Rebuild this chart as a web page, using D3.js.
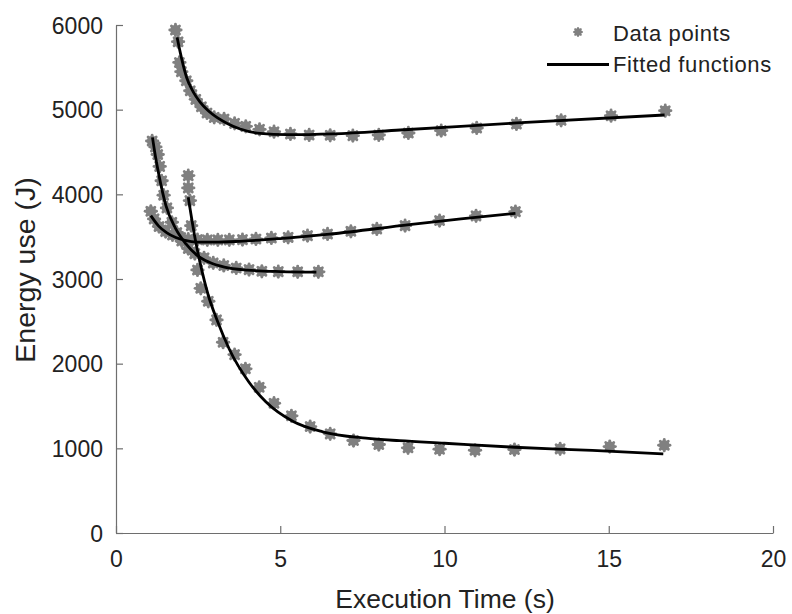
<!DOCTYPE html>
<html>
  <head>
    <meta charset="UTF-8" />
    <style>
      body { margin: 0; background: #fff; }
      svg { display: block; }
      text { font-family: "Liberation Sans", Arial, Helvetica, sans-serif; fill: #222; }
    </style>
  </head>
  <body>
    <svg></svg>
    <script src="https://d3js.org/d3.v7.min.js"></script>
    <script>
      // measured data points [execution time (s), energy (J)]
      const pointsA = [[1.81,5941],[1.89,5803],[1.93,5558],[1.99,5449],[2.14,5342],[2.26,5224],[2.43,5122],[2.6,5035],[2.77,4961],[2.99,4909],[3.29,4890],[3.61,4838],[3.95,4803],[4.37,4767],[4.81,4740],[5.31,4713],[5.88,4701],[6.52,4697],[7.21,4693],[8.0,4701],[8.9,4725],[9.9,4752],[10.98,4784],[12.19,4831],[13.55,4874],[15.07,4929],[16.72,4988]];
      const pointsB = [[1.1,4630],[1.2,4560],[1.27,4470],[1.33,4330],[1.39,4160],[1.45,3990],[1.55,3840],[1.7,3670],[1.85,3550],[2.0,3450],[2.2,3360],[2.4,3300],[2.68,3250],[2.96,3190],[3.28,3160],[3.66,3130],[4.05,3111],[4.44,3091],[4.94,3087],[5.53,3085],[6.16,3085]];
      const pointsC = [[1.06,3800],[1.16,3710],[1.31,3620],[1.51,3560],[1.72,3520],[1.97,3490],[2.2,3470],[2.48,3465],[2.78,3462],[3.1,3462],[3.45,3462],[3.85,3465],[4.26,3473],[4.73,3485],[5.24,3492],[5.83,3512],[6.44,3532],[7.15,3563],[7.94,3591],[8.8,3630],[9.85,3690],[10.96,3746],[12.16,3796]];
      const pointsD = [[2.2,4221],[2.2,4076],[2.25,3926],[2.29,3630],[2.48,3107],[2.58,2890],[2.81,2737],[3.06,2517],[3.26,2253],[3.61,2107],[3.94,1939],[4.36,1721],[4.81,1533],[5.34,1384],[5.91,1257],[6.52,1171],[7.23,1092],[8.0,1045],[8.89,1006],[9.85,990],[10.93,977],[12.13,986],[13.52,994],[15.03,1021],[16.69,1037]];

      // fitted curves
      const fitA = [[1.86,5854],[2.0,5600],[2.15,5380],[2.35,5210],[2.56,5090],[2.8,4990],[3.07,4909],[3.4,4835],[3.78,4772],[4.39,4720],[5.2,4705],[6.6,4715],[8.65,4760],[12.2,4843],[16.7,4937]];
      const fitB = [[1.11,4673],[1.2,4450],[1.31,4221],[1.52,3866],[1.82,3591],[2.13,3414],[2.48,3276],[2.84,3197],[3.3,3140],[4.0,3105],[5.0,3088],[6.1,3082]];
      const fitC = [[1.06,3749],[1.3,3625],[1.55,3545],[1.82,3490],[2.1,3455],[2.45,3435],[3.0,3435],[3.75,3445],[5.0,3478],[6.5,3530],[8.93,3642],[10.5,3710],[12.16,3776]];
      const fitD = [[2.2,3965],[2.43,3433],[2.58,3158],[2.8,2820],[3.09,2500],[3.45,2170],[4.05,1780],[4.56,1550],[5.38,1320],[6.29,1195],[7.61,1120],[8.63,1090],[10,1060],[12.13,1013],[14.5,975],[16.66,935]];

      const xTicks = [0, 5, 10, 15, 20];
      const yTicks = [0, 1000, 2000, 3000, 4000, 5000, 6000];
      const legendLabels = ["Data points", "Fitted functions"];

      let width = 792,
        height = 614;
      let svg = d3.select("svg").attr("width", width).attr("height", height);

      const x = d3.scaleLinear().domain([0, 20]).range([116, 773]);
      const y = d3.scaleLinear().domain([0, 6000]).range([533, 25]);

      const axisColor = "#6e6e6e";
      const markColor = "#808080";

      // x axis (ticks point inward)
      const gx = svg
        .append("g")
        .attr("transform", "translate(0," + y(0) + ")")
        .call(
          d3.axisBottom(x).tickValues(xTicks).tickFormat(d3.format("d"))
            .tickSizeInner(-7).tickSizeOuter(0).tickPadding(16)
        );
      // y axis
      const gy = svg
        .append("g")
        .attr("transform", "translate(" + x(0) + ",0)")
        .call(
          d3.axisLeft(y).tickValues(yTicks).tickFormat(d3.format("d"))
            .tickSizeInner(-7).tickSizeOuter(0).tickPadding(13)
        );

      [gx, gy].forEach((g) => {
        g.select(".domain").attr("stroke", axisColor).attr("stroke-width", 1.2);
        g.selectAll(".tick line").attr("stroke", axisColor).attr("stroke-width", 1.2);
        g.selectAll(".tick text")
          .style("font-family", '"Liberation Sans", Arial, sans-serif')
          .style("font-size", "23px")
          .attr("fill", "#222");
      });
      gx.selectAll(".tick text").attr("dy", "0.8em");
      gy.selectAll(".tick text").attr("dy", "0.36em");

      // axis titles
      svg
        .append("text")
        .attr("x", 445)
        .attr("y", 608)
        .attr("text-anchor", "middle")
        .style("font-size", "26.5px")
        .text("Execution Time (s)");
      svg
        .append("text")
        .attr("transform", "translate(35,270) rotate(-90)")
        .attr("text-anchor", "middle")
        .style("font-size", "28.5px")
        .text("Energy use (J)");

      // data point markers: fat grey asterisk blobs
      function drawMarker(g, cx, cy, r) {
        g.append("circle").attr("cx", cx).attr("cy", cy).attr("r", r * 0.92).attr("fill", markColor);
        for (let k = 0; k < 8; k++) {
          const a = (k * Math.PI) / 4;
          g.append("line")
            .attr("x1", cx)
            .attr("y1", cy)
            .attr("x2", cx + r * Math.cos(a))
            .attr("y2", cy + r * Math.sin(a))
            .attr("stroke", markColor)
            .attr("stroke-width", r * 0.5)
            .attr("stroke-linecap", "round");
        }
      }

      const pts = svg.append("g").attr("id", "points");
      [pointsA, pointsB, pointsC, pointsD].forEach((s) => {
        s.forEach((d) => drawMarker(pts, x(d[0]), y(d[1]), 5.7));
      });

      // fitted lines
      const line = d3
        .line()
        .x((d) => x(d[0]))
        .y((d) => y(d[1]))
        .curve(d3.curveMonotoneX);
      svg
        .append("g")
        .attr("id", "fits")
        .selectAll("path")
        .data([fitA, fitB, fitC, fitD])
        .enter()
        .append("path")
        .attr("d", line)
        .attr("fill", "none")
        .attr("stroke", "#000")
        .attr("stroke-width", 2.8)
        .attr("stroke-linejoin", "round");

      // legend
      const legend = svg.append("g").attr("id", "legend");
      drawMarker(legend, 578, 32, 4);
      legend
        .append("line")
        .attr("x1", 547)
        .attr("x2", 609)
        .attr("y1", 64.5)
        .attr("y2", 64.5)
        .attr("stroke", "#000")
        .attr("stroke-width", 2.8);
      legend
        .selectAll("text")
        .data(legendLabels)
        .enter()
        .append("text")
        .attr("x", 613)
        .attr("y", (d, i) => 33 + i * 31)
        .attr("dy", "0.36em")
        .style("font-size", "22px")
        .style("letter-spacing", "0.6px")
        .text((d) => d);
    </script>
  </body>
</html>
